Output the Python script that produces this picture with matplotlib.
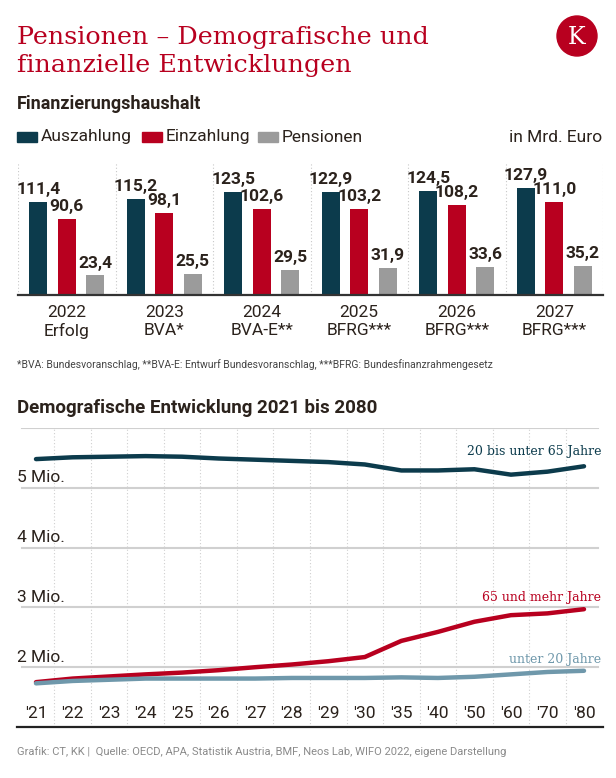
import numpy as np
import matplotlib
matplotlib.use('Agg')
import matplotlib.pyplot as plt
from matplotlib import font_manager
from matplotlib.patches import Circle, Rectangle

# --- data -------------------------------------------------------------
years = ['2022', '2023', '2024', '2025', '2026', '2027']
year_notes = ['Erfolg', 'BVA*', 'BVA-E**', 'BFRG***', 'BFRG***', 'BFRG***']
auszahlung = [111.4, 115.2, 123.5, 122.9, 124.5, 127.9]
einzahlung = [90.6, 98.1, 102.6, 103.2, 108.2, 111.0]
pensionen = [23.4, 25.5, 29.5, 31.9, 33.6, 35.2]

demo_labels = ["'21", "'22", "'23", "'24", "'25", "'26", "'27", "'28", "'29",
               "'30", "'35", "'40", "'50", "'60", "'70", "'80"]
age_20_64 = [5.48, 5.51, 5.52, 5.53, 5.52, 5.49, 5.47, 5.45, 5.43,
             5.39, 5.29, 5.29, 5.31, 5.22, 5.27, 5.36]
age_65_plus = [1.75, 1.81, 1.845, 1.88, 1.91, 1.95, 2.0, 2.045, 2.1,
               2.17, 2.44, 2.59, 2.76, 2.87, 2.90, 2.97]
age_under_20 = [1.73, 1.77, 1.79, 1.81, 1.81, 1.81, 1.81, 1.82, 1.82,
                1.82, 1.83, 1.82, 1.84, 1.88, 1.92, 1.94]
y_ticks = [2, 3, 4, 5]

# --- style ------------------------------------------------------------
W, H = 616, 778
DARK = '#0c3b4c'
RED = '#b8001f'
GREY = '#9b9b9b'
LIGHT = '#6f98ab'
TXT = '#2b221c'

names = {f.name for f in font_manager.fontManager.ttflist}
COND = 'Liberation Sans Narrow' if 'Liberation Sans Narrow' in names else 'Roboto'
SERIF = 'DejaVu Serif'


def fx(x):
    return x / W


def fy(y):
    return 1 - y / H


fig = plt.figure(figsize=(W / 100, H / 100), dpi=100)
fig.patch.set_facecolor('white')

# title + logo
fig.text(fx(17), fy(44), 'Pensionen – Demografische und', family=SERIF,
         fontsize=18.3, color=RED, va='baseline', ha='left')
fig.text(fx(17), fy(72), 'finanzielle Entwicklungen', family=SERIF,
         fontsize=18.3, color=RED, va='baseline', ha='left')
fig.add_artist(Circle((577 / 100, (H - 36) / 100), 0.20, transform=fig.dpi_scale_trans,
                      color=RED, zorder=5))
fig.text(fx(577), fy(37), 'K', family=SERIF, fontsize=17, color='white',
         ha='center', va='center', zorder=6)

fig.text(fx(17), fy(104), 'Finanzierungshaushalt', family=COND, weight='bold',
         fontsize=13, color=TXT, va='center')

# legend row
for x0, col, lab in [(17, DARK, 'Auszahlung'), (142, RED, 'Einzahlung'),
                     (258, GREY, 'Pensionen')]:
    fig.add_artist(Rectangle((fx(x0), fy(142)), 20 / W, 10 / H,
                             transform=fig.transFigure, color=col))
    fig.text(fx(x0 + 24), fy(137), lab, family=COND, fontsize=12.5, color=TXT,
             va='center')
fig.text(fx(602), fy(137), 'in Mrd. Euro', family=COND, fontsize=12.5, color=TXT,
         va='center', ha='right')

# --- bar chart --------------------------------------------------------
axb = fig.add_axes([fx(18), fy(295), (603 - 18) / W, (295 - 163) / H])
x = np.arange(len(years))
off = 0.292
bw = 0.185
for vals, col, d in [(auszahlung, DARK, -off), (einzahlung, RED, 0),
                     (pensionen, GREY, off)]:
    bars = axb.bar(x + d, vals, bw, color=col, zorder=3)
    for b, v in zip(bars, vals):
        axb.annotate(f'{v:.1f}'.replace('.', ','),
                     (b.get_x() + b.get_width() / 2, v), xytext=(0, 3.5),
                     textcoords='offset points', ha='center', va='bottom',
                     family=COND, weight='bold', fontsize=12.5, color=TXT)
axb.set_xlim(-0.5, len(years) - 0.5)
axb.set_ylim(0, 158)
for s in np.arange(-0.5, len(years), 1.0):
    axb.axvline(s, color='#c8c8c8', lw=0.8, ls=(0, (1, 2)), zorder=1)
for sp in axb.spines.values():
    sp.set_visible(False)
axb.axhline(0, color='#333333', lw=1.6, zorder=4, clip_on=False)
axb.set_yticks([])
axb.set_xticks(x)
axb.set_xticklabels([f'{a}\n{b}' for a, b in zip(years, year_notes)],
                    family=COND, fontsize=12.5, color=TXT, linespacing=1.25)
axb.tick_params(axis='x', length=0, pad=7)

fig.text(fx(17), fy(365),
         '*BVA: Bundesvoranschlag, **BVA-E: Entwurf Bundesvoranschlag, '
         '***BFRG: Bundesfinanzrahmengesetz',
         family=COND, fontsize=7.5, color='#444444', va='center')

# --- line chart -------------------------------------------------------
fig.text(fx(17), fy(408), 'Demografische Entwicklung 2021 bis 2080',
         family=COND, weight='bold', fontsize=13.5, color=TXT, va='center')

axl = fig.add_axes([fx(17), fy(727), (603 - 17) / W, (727 - 428) / H])
xl = np.arange(len(demo_labels))
axl.set_xlim(-0.52, len(demo_labels) - 0.48)
axl.set_ylim(1.0, 6.0)
for yv in y_ticks + [6]:
    axl.axhline(yv, xmin=0.009, xmax=0.991, color='#d0d0d0', lw=1.5, zorder=1)
for yv in y_ticks:
    axl.text(0.0, yv + 0.04, f'{yv} Mio.', transform=axl.get_yaxis_transform(),
             family=COND, fontsize=12.5, color=TXT, va='bottom', ha='left')
for s in np.arange(0.5, len(demo_labels) - 1, 1.0):
    axl.axvline(s, color='#cfcfcf', lw=0.8, ls=(0, (1, 2)), zorder=1)

axl.plot(xl, age_20_64, color=DARK, lw=3.2, solid_capstyle='round', zorder=3)
axl.plot(xl, age_65_plus, color=RED, lw=3.2, solid_capstyle='round', zorder=3)
axl.plot(xl, age_under_20, color=LIGHT, lw=3.2, solid_capstyle='round', zorder=3)

axl.text(0.997, 5.6, '20 bis unter 65 Jahre', transform=axl.get_yaxis_transform(),
         family=SERIF, fontsize=9, color=DARK, ha='right', va='center')
axl.text(0.997, 3.17, '65 und mehr Jahre', transform=axl.get_yaxis_transform(),
         family=SERIF, fontsize=9, color=RED, ha='right', va='center')
axl.text(0.997, 2.13, 'unter 20 Jahre', transform=axl.get_yaxis_transform(),
         family=SERIF, fontsize=9, color=LIGHT, ha='right', va='center')

for xi, lab in zip(xl, demo_labels):
    axl.text(xi, 1.22, lab, family=COND, fontsize=12.5, color=TXT,
             ha='center', va='center')

for side in ['top', 'left', 'right']:
    axl.spines[side].set_visible(False)
axl.spines['bottom'].set_color('#222222')
axl.spines['bottom'].set_linewidth(1.6)
axl.set_xticks([])
axl.set_yticks([])
axl.patch.set_alpha(0)

fig.text(fx(17), fy(752),
         'Grafik: CT, KK |  Quelle: OECD, APA, Statistik Austria, BMF, Neos Lab, '
         'WIFO 2022, eigene Darstellung',
         family=COND, fontsize=8, color='#8a8a8a', va='center')

fig.savefig('out.png', dpi=100, facecolor='white')
